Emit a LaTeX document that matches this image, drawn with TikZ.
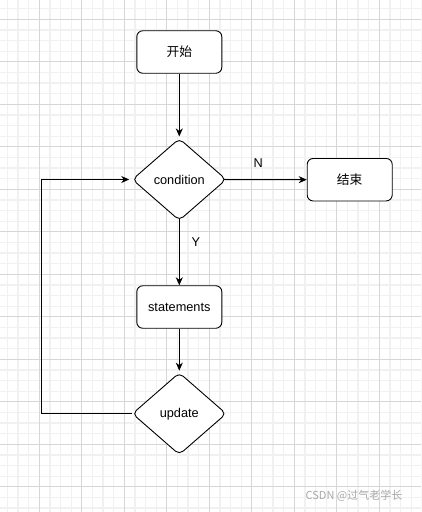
\documentclass[tikz,border=0pt]{standalone}
\usepackage{fontspec}
\setmainfont{Liberation Sans}
\newfontfamily\cjk{Noto Sans CJK SC}
\usetikzlibrary{shapes.geometric,arrows.meta}
\definecolor{minorgrid}{RGB}{241,241,241}
\definecolor{majorgrid}{RGB}{214,214,214}
\definecolor{wmark}{RGB}{168,168,168}
\tikzset{
  box/.style={draw, line width=0.9pt, rounded corners=6pt, minimum width=85pt, minimum height=42.5pt, inner sep=0pt, font=\fontsize{12.75}{15}\selectfont},
  dia/.style={draw, diamond, line width=0.9pt, rounded corners=5pt, minimum width=94pt, minimum height=82pt, inner sep=0pt, font=\fontsize{12.75}{15}\selectfont},
  arr/.style={line width=1pt, -{Stealth[length=8pt,width=7pt,inset=2.5pt]}},
  lbl/.style={font=\fontsize{12.75}{15}\selectfont, inner sep=0pt}
}
\begin{document}
\begin{tikzpicture}[x=1pt,y=-1pt]
\useasboundingbox (0,0) rectangle (421,512);
\fill[white] (0,0) rectangle (421,512);
\begin{scope}
\clip (0,0) rectangle (421,512);
\foreach \i in {-4,...,36} {\draw[minorgrid, line width=1.2pt] ({39.3+10.625*\i},0) -- ({39.3+10.625*\i},512);}
\foreach \i in {-2,...,47} {\draw[minorgrid, line width=1.2pt] (0,{19.3+10.625*\i}) -- (421,{19.3+10.625*\i});}
\foreach \i in {-1,...,9} {\draw[majorgrid, line width=0.8pt] ({39.3+42.5*\i},0) -- ({39.3+42.5*\i},512);}
\foreach \i in {-1,...,12} {\draw[majorgrid, line width=0.8pt] (0,{19.3+42.5*\i}) -- (421,{19.3+42.5*\i});}
\end{scope}

\node[box, fill=white] (start) at (179.3,52) {\cjk 开始};
\node[dia, fill=white] (cond) at (179.3,179.5) {condition};
\node[box, fill=white] (end) at (349.7,179.7) {\cjk 结束};
\node[box, fill=white] (stmt) at (179.3,307) {statements};
\node[dia, fill=white] (upd) at (179.3,413.7) {update};

\coordinate (loopA) at (41.3,413.7);

\draw[arr, shorten >=1.6pt] (start) -- (cond.north);
\draw[arr, shorten <=-1.6pt] (cond.south) -- (stmt.north);
\draw[arr, shorten >=1.6pt] (stmt) -- (upd.north);
\draw[arr, shorten <=-2.6pt] (cond.east) -- (end.west);
\draw[arr, shorten >=2.6pt] (upd.west) -- (loopA) |- (cond.west);

\node[lbl] (ylab) at (196,242) {Y};
\node[lbl] (nlab) at (258.3,163) {N};

\node[inner sep=0pt, text=wmark, font=\cjk\fontsize{11}{13}\selectfont] (wm) at (354,496) {CSDN @过气老学长};
\end{tikzpicture}
\end{document}
